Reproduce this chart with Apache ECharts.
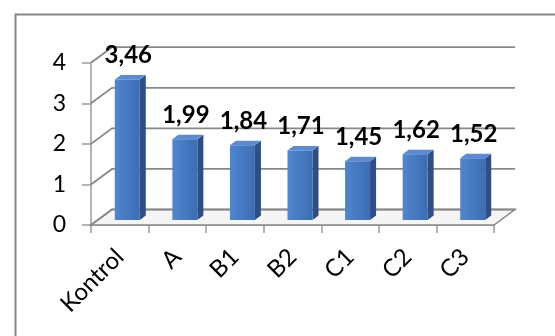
<!DOCTYPE html>
<html>
<head>
<meta charset="utf-8">
<script src="https://cdn.jsdelivr.net/npm/echarts@6/dist/echarts.min.js"></script>
<style>
  html, body { margin: 0; padding: 0; background: #fff; }
  #chart { width: 555px; height: 336px; }
</style>
</head>
<body>
<div id="chart"></div>
<script>
// Chart data
const categories = ['Kontrol', 'A', 'B1', 'B2', 'C1', 'C2', 'C3'];
const values = [3.46, 1.99, 1.84, 1.71, 1.45, 1.62, 1.52];
const yTicks = [0, 1, 2, 3, 4];

const FONT = 'Lato, "Open Sans", sans-serif';
const GRID_COLOR = '#888888';
const AXIS_COLOR = '#9a9a9a';

// pseudo-3D geometry (pixels)
const DEPTH_X = 21, DEPTH_Y = -15.5;     // back wall offset from the front plane
const BAR_SHIFT_X = 7.5, BAR_SHIFT_Y = -5; // bars stand a little way into the floor
const BAR_W = 25, SIDE_X = 6, SIDE_Y = -4.5;

function fmt(v) { return v.toFixed(2).replace('.', ','); }

// back wall gridlines, side wall diagonals and the floor
function renderWall(params, api) {
  const cs = params.coordSys;
  const v = api.value(1);
  const y = api.coord([0, v])[1];
  const x0 = cs.x, x1 = cs.x + cs.width;
  const children = [];
  if (v === yTicks[0]) {
    children.push({
      type: 'polygon',
      shape: { points: [[x0, y], [x1, y], [x1 + DEPTH_X, y + DEPTH_Y], [x0 + DEPTH_X, y + DEPTH_Y]] },
      style: { fill: '#f5f5f5', stroke: GRID_COLOR, lineWidth: 1.5 }
    });
  }
  children.push({
    type: 'polyline',
    shape: { points: [[x0, y], [x0 + DEPTH_X, y + DEPTH_Y], [x1 + DEPTH_X, y + DEPTH_Y]] },
    style: { fill: null, stroke: GRID_COLOR, lineWidth: 1.8 }
  });
  return { type: 'group', children };
}

// one shaded column with its value label
function renderBar(params, api) {
  const idx = api.value(0);
  const v = api.value(1);
  const top = api.coord([idx, v]);
  const base = api.coord([idx, 0]);
  const cx = top[0] + BAR_SHIFT_X;
  const xl = cx - BAR_W / 2, xr = cx + BAR_W / 2;
  const yb = base[1] + BAR_SHIFT_Y, yt = top[1] + BAR_SHIFT_Y;
  return {
    type: 'group',
    children: [
      {
        type: 'polygon',
        shape: { points: [[xr, yb], [xr + SIDE_X, yb + SIDE_Y], [xr + SIDE_X, yt + SIDE_Y], [xr, yt]] },
        style: { fill: '#2c4f86' }
      },
      {
        type: 'polygon',
        shape: { points: [[xl, yt], [xr, yt], [xr + SIDE_X, yt + SIDE_Y], [xl + SIDE_X, yt + SIDE_Y]] },
        style: { fill: '#5b8bd2' }
      },
      {
        type: 'rect',
        shape: { x: xl, y: yt, width: BAR_W, height: yb - yt },
        style: {
          fill: new echarts.graphic.LinearGradient(0, 0, 1, 0, [
            { offset: 0, color: '#4f86d0' },
            { offset: 1, color: '#3c6db3' }
          ])
        }
      },
      {
        type: 'text',
        x: cx + 1,
        y: yt - 24,
        style: {
          text: fmt(v),
          fontFamily: FONT,
          fontSize: 24,
          fontWeight: 'bold',
          fill: '#000',
          align: 'center',
          verticalAlign: 'middle'
        }
      }
    ]
  };
}

const chart = echarts.init(document.getElementById('chart'), null, { renderer: 'canvas' });

chart.setOption({
  animation: false,
  backgroundColor: '#ffffff',
  graphic: [{
    type: 'rect',
    left: 13, top: 12,
    shape: { width: 620, height: 400 },
    style: { fill: 'none', stroke: '#878787', lineWidth: 2 },
    silent: true
  }],
  grid: {
    left: 91, top: 62.7, right: 61, bottom: 111,
    containLabel: false,
    outerBoundsMode: 'none'
  },
  xAxis: {
    type: 'category',
    data: categories,
    boundaryGap: true,
    axisLine: { show: true, lineStyle: { color: AXIS_COLOR, width: 1.5 } },
    axisTick: { show: true, length: 8, lineStyle: { color: AXIS_COLOR, width: 1.5 } },
    axisLabel: {
      rotate: 45,
      interval: 0,
      margin: 28,
      fontFamily: FONT,
      fontSize: 24,
      color: '#000'
    },
    splitLine: { show: false }
  },
  yAxis: {
    type: 'value',
    min: yTicks[0],
    max: yTicks[yTicks.length - 1],
    interval: 1,
    axisLine: { show: true, lineStyle: { color: AXIS_COLOR, width: 1.5 } },
    axisTick: { show: true, length: 9, lineStyle: { color: AXIS_COLOR, width: 1.5 } },
    axisLabel: {
      margin: 25,
      fontFamily: FONT,
      fontSize: 23,
      color: '#000'
    },
    splitLine: { show: false }
  },
  series: [
    {
      type: 'custom',
      name: 'walls',
      renderItem: renderWall,
      data: yTicks.map(t => [0, t]),
      encode: { x: 0, y: 1 },
      silent: true,
      z: 1
    },
    {
      type: 'custom',
      name: 'values',
      renderItem: renderBar,
      data: values.map((v, i) => [i, v]),
      encode: { x: 0, y: 1 },
      z: 3
    }
  ]
});
</script>
</body>
</html>
